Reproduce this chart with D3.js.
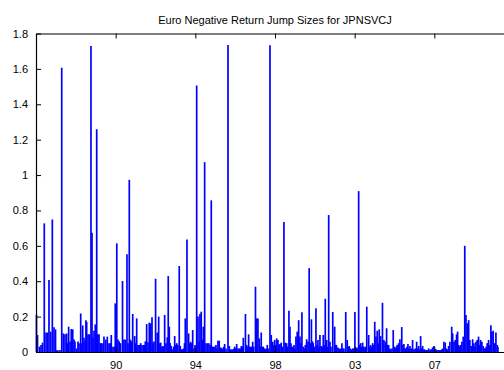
<!DOCTYPE html>
<html>
<head>
<meta charset="utf-8">
<script src="https://cdn.jsdelivr.net/npm/d3@7"></script>
<style>
  html, body { margin: 0; padding: 0; background: #fff; }
  svg { display: block; font-family: "Liberation Sans", Arial, Helvetica, sans-serif; }
</style>
</head>
<body>
<svg id="chart" width="504" height="370"></svg>
<script>
// Chart title
const chartTitle = "Euro Negative Return Jump Sizes for JPNSVCJ";

// x axis: observation number, labelled by year
const xTickObs = [1000, 2000, 3000, 4000, 5000];
const xTickLabels = ["90", "94", "98", "03", "07"];

// y axis
const yTicks = [0, 0.2, 0.4, 0.6, 0.8, 1, 1.2, 1.4, 1.6, 1.8];
const yTickLabels = ["0", "0.2", "0.4", "0.6", "0.8", "1", "1.2", "1.4", "1.6", "1.8"];

// Jump observations (observation number) and their sizes
const jumpObs = [
  6, 19, 44, 63, 82, 104, 126, 144, 163, 184, 205, 226, 245, 260, 276, 301, 323, 343, 364, 385,
  395, 410, 427, 443, 461, 477, 489, 508, 527, 540, 561, 577, 586, 602, 617, 627, 636, 653, 669, 690,
  703, 715, 728, 744, 762, 776, 791, 807, 822, 841, 853, 875, 895, 916, 931, 945, 966, 983, 995, 1014,
  1029, 1044, 1060, 1086, 1104, 1121, 1142, 1155, 1171, 1186, 1199, 1214, 1239, 1252, 1264, 1280, 1296, 1314, 1330, 1349,
  1364, 1372, 1389, 1406, 1422, 1440, 1456, 1468, 1481, 1501, 1522, 1540, 1556, 1565, 1581, 1590, 1603, 1615, 1632, 1648,
  1660, 1673, 1685, 1698, 1716, 1728, 1741, 1753, 1766, 1780, 1798, 1811, 1824, 1839, 1851, 1864, 1874, 1895, 1916, 1929,
  1941, 1954, 1967, 1983, 1996, 2017, 2033, 2046, 2058, 2074, 2087, 2100, 2117, 2134, 2153, 2171, 2187, 2200, 2215, 2230,
  2246, 2259, 2272, 2284, 2300, 2318, 2330, 2343, 2356, 2368, 2385, 2410, 2426, 2438, 2453, 2469, 2485, 2494, 2506, 2519,
  2535, 2551, 2564, 2577, 2589, 2602, 2629, 2644, 2656, 2669, 2682, 2694, 2707, 2720, 2732, 2755, 2770, 2786, 2802, 2815,
  2827, 2840, 2853, 2865, 2878, 2890, 2903, 2918, 2937, 2953, 2971, 2983, 2996, 3008, 3021, 3037, 3050, 3062, 3078, 3091,
  3112, 3129, 3146, 3159, 3175, 3188, 3200, 3213, 3225, 3238, 3250, 3263, 3279, 3297, 3313, 3326, 3338, 3355, 3367, 3380,
  3397, 3414, 3429, 3442, 3457, 3470, 3480, 3495, 3514, 3527, 3539, 3552, 3564, 3580, 3593, 3606, 3618, 3631, 3649, 3661,
  3674, 3690, 3702, 3725, 3749, 3759, 3771, 3790, 3803, 3815, 3828, 3840, 3853, 3865, 3888, 3907, 3919, 3932, 3944, 3957,
  3975, 3987, 4003, 4025, 4037, 4050, 4062, 4075, 4088, 4100, 4113, 4123, 4133, 4152, 4176, 4188, 4200, 4213, 4226, 4238,
  4252, 4267, 4283, 4296, 4308, 4326, 4349, 4367, 4384, 4401, 4414, 4426, 4439, 4452, 4468, 4484, 4497, 4509, 4522, 4534,
  4552, 4568, 4591, 4606, 4618, 4631, 4643, 4656, 4669, 4681, 4694, 4710, 4727, 4744, 4760, 4778, 4790, 4803, 4815, 4828,
  4840, 4853, 4866, 4878, 4891, 4903, 4916, 4928, 4941, 4953, 4966, 4979, 4995, 5007, 5020, 5032, 5045, 5058, 5070, 5083,
  5095, 5108, 5120, 5137, 5149, 5162, 5179, 5195, 5218, 5230, 5246, 5262, 5279, 5292, 5304, 5314, 5330, 5346, 5363, 5382,
  5397, 5413, 5431, 5446, 5463, 5481, 5497, 5509, 5522, 5538, 5555, 5568, 5580, 5597, 5614, 5626, 5639, 5651, 5664, 5681,
  5693, 5710, 5722, 5739, 5757, 5773, 5789, 5798
];
const jumpSize = [
  0.21, 0.096, 0.03, 0.04, 0.053, 0.727, 0.11, 0.11, 0.407, 0.115, 0.749, 0.14, 0.128, 0.01, 0.01, 0.012, 1.607, 0.105, 0.1, 0.105,
  0.05, 0.143, 0.06, 0.13, 0.128, 0.07, 0.06, 0.02, 0.06, 0.05, 0.218, 0.05, 0.15, 0.08, 0.06, 0.18, 0.17, 0.1, 0.1, 1.73,
  0.674, 0.08, 0.12, 0.156, 1.259, 0.1, 0.1, 0.05, 0.05, 0.05, 0.087, 0.07, 0.087, 0.05, 0.05, 0.096, 0.03, 0.03, 0.275, 0.614,
  0.07, 0.06, 0.05, 0.401, 0.07, 0.07, 0.553, 0.05, 0.973, 0.07, 0.06, 0.215, 0.09, 0.05, 0.19, 0.04, 0.04, 0.05, 0.04, 0.04,
  0.04, 0.06, 0.158, 0.055, 0.166, 0.162, 0.196, 0.05, 0.06, 0.414, 0.11, 0.2, 0.05, 0.053, 0.03, 0.034, 0.03, 0.209, 0.05, 0.083,
  0.429, 0.143, 0.05, 0.034, 0.015, 0.03, 0.09, 0.04, 0.05, 0.04, 0.486, 0.034, 0.015, 0.015, 0.02, 0.05, 0.19, 0.636, 0.105, 0.05,
  0.058, 0.05, 0.124, 0.02, 0.04, 1.506, 0.2, 0.06, 0.215, 0.228, 0.07, 0.143, 1.073, 0.05, 0.05, 0.05, 0.04, 0.857, 0.03, 0.03,
  0.03, 0.04, 0.02, 0.064, 0.064, 0.026, 0.02, 0.02, 0.03, 0.045, 0.02, 1.735, 0.034, 0.015, 0.015, 0.015, 0.02, 0.03, 0.02, 0.045,
  0.02, 0.02, 0.02, 0.034, 0.03, 0.08, 0.215, 0.04, 0.03, 0.1, 0.03, 0.03, 0.03, 0.058, 0.03, 0.369, 0.19, 0.19, 0.077, 0.03,
  0.11, 0.03, 0.03, 0.02, 0.015, 0.02, 0.04, 0.02, 1.733, 0.096, 0.058, 0.04, 0.068, 0.04, 0.077, 0.068, 0.04, 0.045, 0.053, 0.03,
  0.734, 0.053, 0.05, 0.03, 0.233, 0.143, 0.05, 0.03, 0.03, 0.04, 0.02, 0.087, 0.115, 0.18, 0.087, 0.05, 0.224, 0.03, 0.02, 0.04,
  0.072, 0.058, 0.474, 0.05, 0.185, 0.06, 0.05, 0.03, 0.247, 0.04, 0.068, 0.03, 0.096, 0.034, 0.03, 0.096, 0.04, 0.301, 0.068, 0.03,
  0.774, 0.058, 0.03, 0.226, 0.143, 0.04, 0.04, 0.026, 0.02, 0.015, 0.02, 0.05, 0.02, 0.02, 0.226, 0.068, 0.03, 0.034, 0.02, 0.015,
  0.02, 0.02, 0.226, 0.026, 0.02, 0.909, 0.04, 0.05, 0.03, 0.053, 0.03, 0.02, 0.03, 0.256, 0.096, 0.03, 0.04, 0.03, 0.05, 0.04,
  0.171, 0.087, 0.12, 0.05, 0.128, 0.09, 0.278, 0.068, 0.058, 0.134, 0.04, 0.04, 0.02, 0.015, 0.02, 0.124, 0.03, 0.02, 0.03, 0.04,
  0.05, 0.072, 0.141, 0.04, 0.045, 0.02, 0.02, 0.03, 0.045, 0.02, 0.034, 0.02, 0.068, 0.015, 0.02, 0.058, 0.02, 0.034, 0.015, 0.09,
  0.02, 0.034, 0.015, 0.015, 0.01, 0.011, 0.01, 0.02, 0.01, 0.015, 0.015, 0.026, 0.034, 0.01, 0.015, 0.01, 0.011, 0.01, 0.011, 0.01,
  0.015, 0.02, 0.058, 0.053, 0.02, 0.015, 0.034, 0.058, 0.143, 0.105, 0.058, 0.068, 0.1, 0.115, 0.04, 0.03, 0.04, 0.058, 0.087, 0.6,
  0.209, 0.162, 0.18, 0.068, 0.034, 0.072, 0.05, 0.03, 0.058, 0.068, 0.087, 0.04, 0.068, 0.058, 0.034, 0.02, 0.02, 0.03, 0.05, 0.068,
  0.04, 0.151, 0.115, 0.12, 0.05, 0.11, 0.04, 0.03
];

(function drawChart() {
  const svg = d3.select("#chart");
  const plotLeft = 36, plotRight = 514, plotTop = 33.5, plotBottom = 352;

  const x = d3.scaleLinear().domain([0, 6000]).range([plotLeft, plotRight]);
  const y = d3.scaleLinear().domain([0, 1.8]).range([plotBottom, plotTop]);

  // Title
  svg.append("text")
    .attr("x", (plotLeft + plotRight) / 2)
    .attr("y", 24)
    .attr("text-anchor", "middle")
    .attr("font-size", 11)
    .attr("fill", "#000")
    .text(chartTitle);

  // Jump sizes: each observation drawn as a vertical stroke from zero
  const points = jumpObs.map((o, i) => ({ obs: o, size: jumpSize[i] }));
  const stem = d3.line().x(d => x(d[0])).y(d => y(d[1]));
  svg.append("g")
    .selectAll("path")
    .data(points)
    .join("path")
    .attr("d", d => stem([[d.obs, 0], [d.obs, d.size]]))
    .attr("stroke", "#0000ff")
    .attr("stroke-width", 1.7)
    .attr("fill", "none");

  // Axes (box with inward ticks)
  const xAxisBottom = d3.axisBottom(x).tickValues(xTickObs)
    .tickFormat((d, i) => xTickLabels[i]).tickSizeInner(-5).tickSizeOuter(0).tickPadding(9);
  const xAxisTop = d3.axisTop(x).tickValues(xTickObs)
    .tickFormat("").tickSizeInner(-5).tickSizeOuter(0);
  const yAxisLeft = d3.axisLeft(y).tickValues(yTicks)
    .tickFormat((d, i) => yTickLabels[i]).tickSizeInner(-5).tickSizeOuter(0).tickPadding(8);

  function styleAxis(g) {
    g.select(".domain").attr("stroke", "#000").attr("stroke-width", 1.2);
    g.selectAll(".tick line").attr("stroke", "#000").attr("stroke-width", 1);
    g.selectAll(".tick text").attr("font-size", 11).attr("fill", "#000")
      .attr("font-family", "'Liberation Sans', Arial, sans-serif");
  }

  svg.append("g").attr("transform", `translate(0,${plotBottom})`).call(xAxisBottom).call(styleAxis);
  svg.append("g").attr("transform", `translate(0,${plotTop})`).call(xAxisTop).call(styleAxis);
  svg.append("g").attr("transform", `translate(${plotLeft},0)`).call(yAxisLeft).call(styleAxis);
})();
</script>
</body>
</html>
